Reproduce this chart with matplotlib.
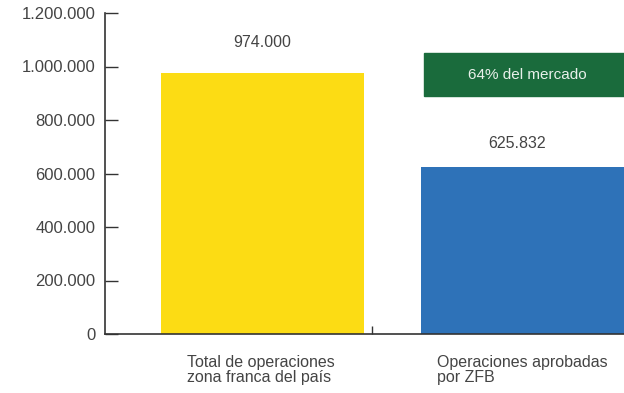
import matplotlib.pyplot as plt
from matplotlib.ticker import FuncFormatter

plt.rcParams['font.family'] = ['Liberation Sans', 'DejaVu Sans']

# Data
categories = ['Total de operaciones\nzona franca del país', 'Operaciones aprobadas\npor ZFB']
values = [974000, 625832]
value_labels = ['974.000', '625.832']
colors = ['#fcdc14', '#2e72b8']
market_note = '64% del mercado'

text_color = '#444444'
axis_color = '#333333'

fig = plt.figure(figsize=(6.24, 3.93), dpi=100)
ax = fig.add_axes([105 / 624, 59 / 393, 519 / 624, 321 / 393])

x = list(range(len(categories)))
ax.bar(x, values, width=0.783, color=colors, zorder=2)

# value labels above bars
ax.text(0, 1088000, value_labels[0], ha='center', va='center', fontsize=11.5, color=text_color)
ax.text(0.98, 714000, value_labels[1], ha='center', va='center', fontsize=11.5, color=text_color)

# green box with market share
ax.add_patch(plt.Rectangle((0.62, 890000), 1.0, 160000, color='#1a6b3c', zorder=3, clip_on=True))
ax.text(1.02, 970000, market_note, ha='center', va='center', fontsize=11, color='#e8f0ea', zorder=4)

ax.set_xlim(-0.605, 1.39)
ax.set_ylim(0, 1200000)
ax.set_yticks(range(0, 1200001, 200000))
ax.yaxis.set_major_formatter(FuncFormatter(lambda v, p: f'{int(v):,}'.replace(',', '.')))
ax.tick_params(axis='y', direction='in', length=9.5, width=1, color=axis_color,
               labelsize=12, labelcolor=text_color, pad=7)

# category boundary tick and category labels
ax.set_xticks([0.4225])
ax.set_xticklabels([''])
ax.tick_params(axis='x', direction='in', length=6, width=1, color=axis_color)
for xi, lab in zip([-0.29, 0.67], categories):
    ax.text(xi, -78000, lab, ha='left', va='top', fontsize=11.5, color=text_color,
            linespacing=1.0)

for s in ['top', 'right']:
    ax.spines[s].set_visible(False)
for s in ['left', 'bottom']:
    ax.spines[s].set_color(axis_color)
    ax.spines[s].set_linewidth(1.2)

fig.savefig('out.png', dpi=100)
